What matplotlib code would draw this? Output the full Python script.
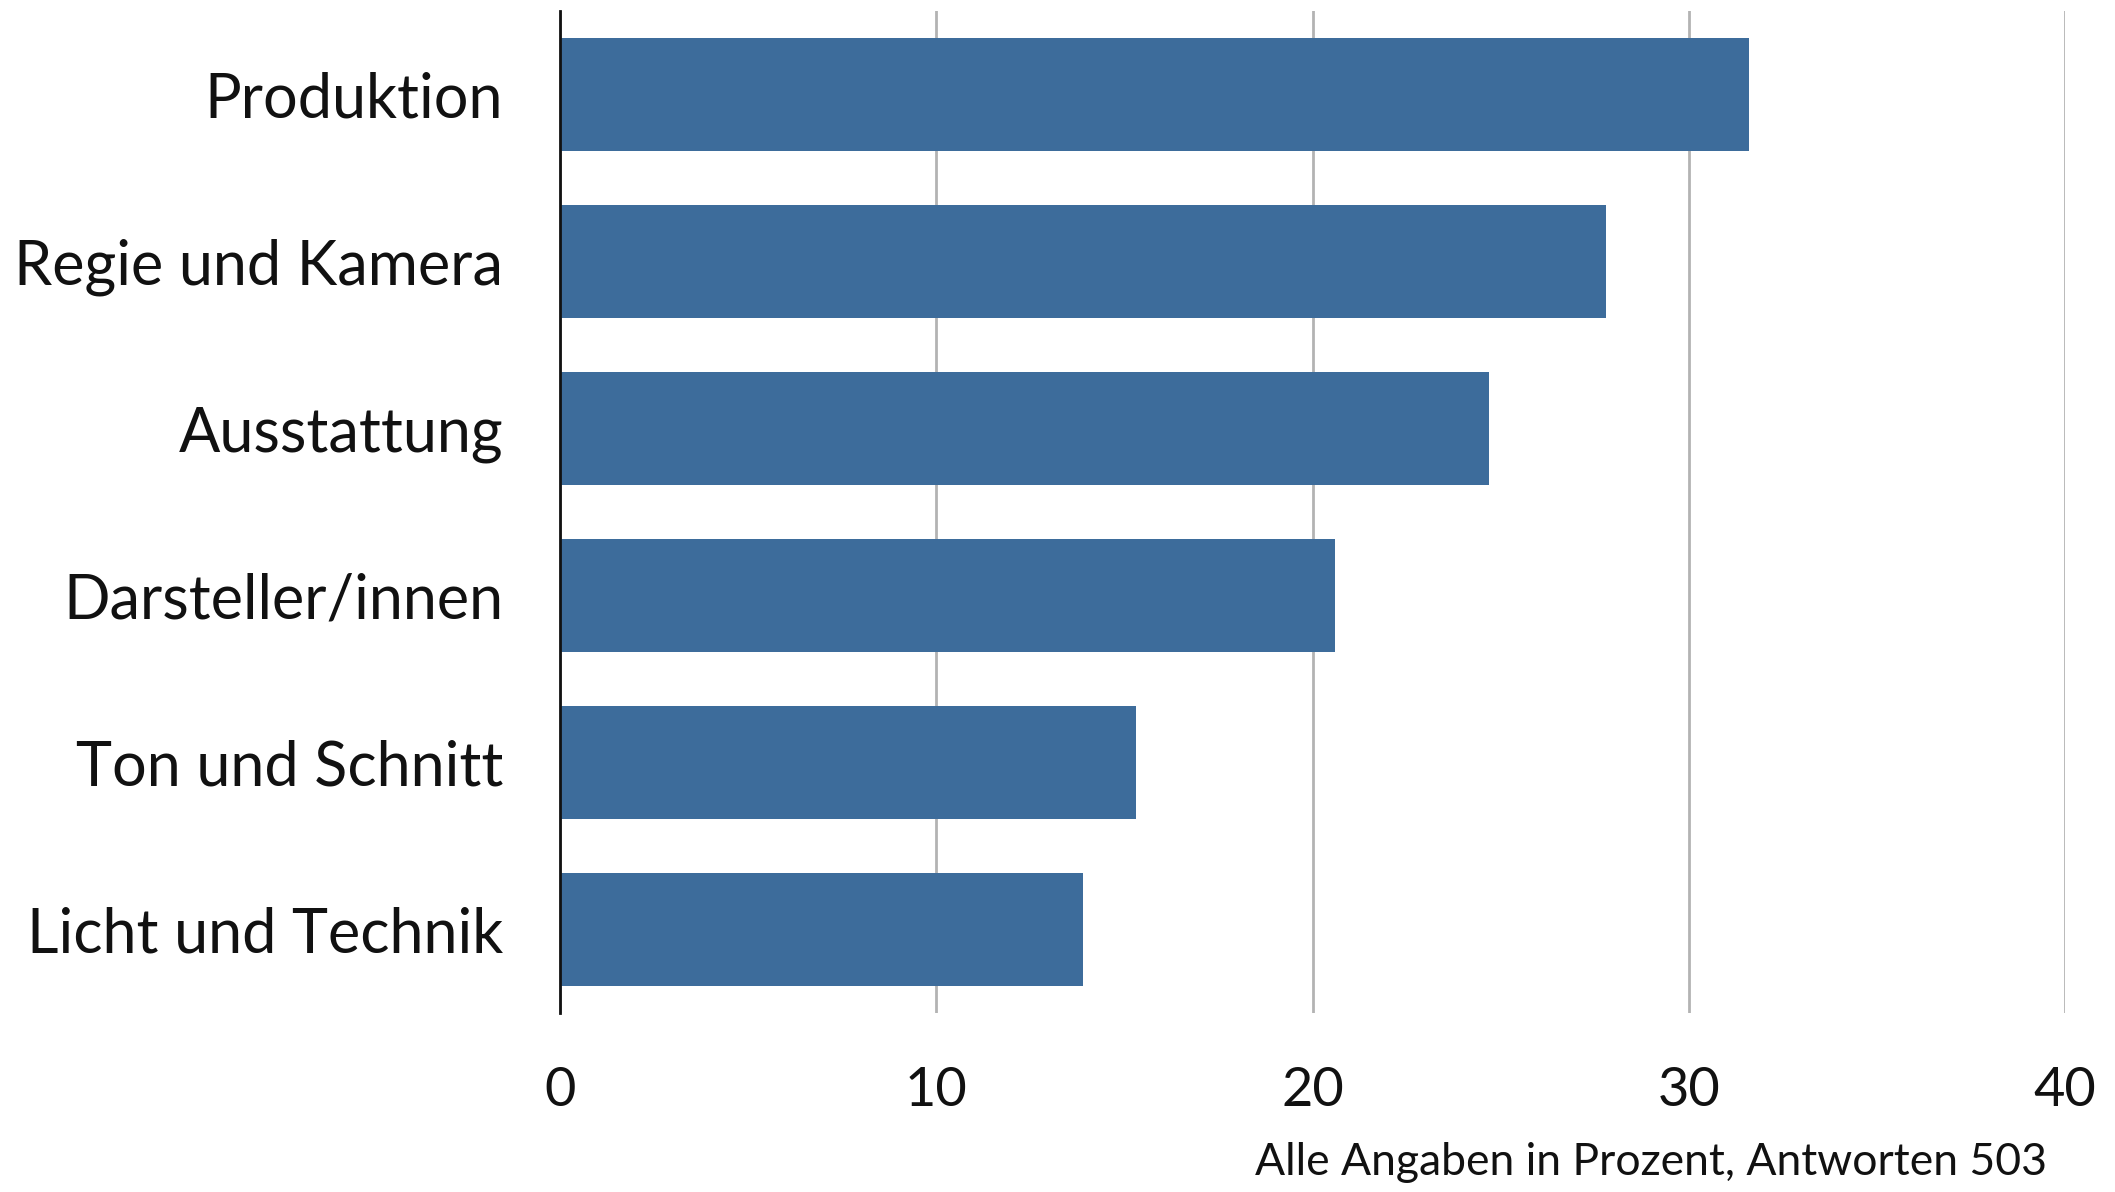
import matplotlib
matplotlib.use("Agg")
import matplotlib.pyplot as plt

categories = ["Produktion", "Regie und Kamera", "Ausstattung",
              "Darsteller/innen", "Ton und Schnitt", "Licht und Technik"]
values = [31.6, 27.8, 24.7, 20.6, 15.3, 13.9]
x_ticks = [0, 10, 20, 30, 40]
caption = "Alle Angaben in Prozent, Antworten 503"

plt.rcParams["font.family"] = ["Lato", "DejaVu Sans"]

fig = plt.figure(figsize=(21.15, 11.92), dpi=100)
ax = fig.add_axes([0.2648, 0.150, 0.7116, 0.8408])

pos = list(range(len(categories)))
ax.barh(pos, values, height=0.68, color="#3d6c9b", zorder=3)

ax.set_ylim(len(categories) - 0.5, -0.5)
ax.set_xlim(0, 40)
ax.set_xticks(x_ticks)
ax.set_xticklabels([str(t) for t in x_ticks])
ax.set_yticks(pos)
ax.set_yticklabels(categories)

ax.xaxis.grid(True, color="#b3b3b3", linewidth=2.0, zorder=0)
ax.yaxis.grid(False)
for side in ["top", "right", "bottom"]:
    ax.spines[side].set_visible(False)
ax.spines["left"].set_linewidth(2.0)
ax.spines["left"].set_color("#111111")
ax.spines["left"].set_zorder(4)

ax.tick_params(axis="y", length=0, pad=41, labelsize=44, labelcolor="#111111")
ax.tick_params(axis="x", length=0, pad=38, labelsize=39, labelcolor="#111111")

fig.text(0.968, 0.014, caption, ha="right", va="baseline", fontsize=32,
         color="#111111")

fig.savefig("out.png", dpi=100, facecolor="white")
